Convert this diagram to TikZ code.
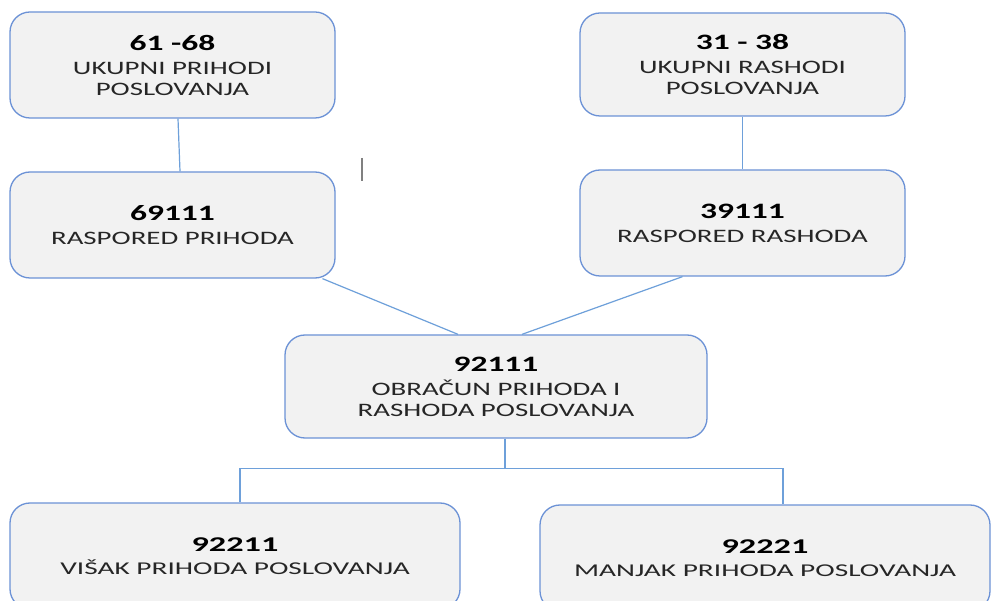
\documentclass[tikz,border=0pt]{standalone}
\usepackage{fontspec}
\setmainfont{Carlito}
\newfontfamily\widefont[FakeStretch=1.52]{Carlito}
\newfontfamily\widerfont[FakeStretch=1.63]{Carlito}
\usetikzlibrary{positioning}
\definecolor{boxline}{RGB}{108,146,214}
\definecolor{boxfill}{RGB}{242,242,242}
\definecolor{linkline}{RGB}{110,160,218}
\definecolor{txt}{RGB}{38,38,38}
\newcommand{\acctno}[1]{{\fontsize{22}{24}\selectfont\bfseries\color{black}#1}}
\newcommand{\acctnosm}[1]{{\fontsize{21}{23}\selectfont\bfseries\color{black}#1}}
\tikzset{
  acct/.style={draw=boxline, fill=boxfill, line width=1.3pt, rounded corners=20pt,
    align=center, text=txt, inner sep=0pt},
  wide/.style={acct, font=\widefont\fontsize{19}{21}\selectfont},
  result/.style={acct, font=\widerfont\fontsize{18}{21}\selectfont,
    minimum width=450pt, minimum height=106pt},
  link/.style={draw=linkline, line width=1.2pt}
}
\begin{document}
\begin{tikzpicture}[x=1pt,y=-1pt]
      \path[use as bounding box, clip] (0,0) rectangle (991,601);
      \fill[white] (0,0) rectangle (991,601);
      \node[wide, minimum width=325pt, minimum height=106pt] (prih) at (172.5,65)
        {\acctno{61 -68}\\[3pt] UKUPNI PRIHODI\\ POSLOVANJA};
      \node[wide, minimum width=325pt, minimum height=103pt] (rash) at (742.5,64.5)
        {\acctno{31 - 38}\\[3pt] UKUPNI RASHODI\\ POSLOVANJA};
      \node[wide, minimum width=325pt, minimum height=106pt] (rprih) at (172.5,225)
        {\acctno{69111}\\[3pt] RASPORED PRIHODA};
      \node[wide, minimum width=325pt, minimum height=106pt] (rrash) at (742.5,223)
        {\acctno{39111}\\[3pt] RASPORED RASHODA};
      \node[wide, minimum width=422pt, minimum height=103pt] (obr) at (496,386.5)
        {\acctno{92111}\\[3pt] OBRAČUN PRIHODA I\\ RASHODA POSLOVANJA};
      \node[result] (visak) at (235,556)
        {\acctnosm{92211}\\[2pt] VIŠAK PRIHODA POSLOVANJA};
      \node[result] (manjak) at (765,558)
        {\acctnosm{92221}\\[2pt] MANJAK PRIHODA POSLOVANJA};
      % veze
      \draw[link] ([xshift=5.5pt]prih.south) -- ([xshift=7.5pt]rprih.north);
      \draw[link] (rash.south) -- (rrash.north);
      \draw[link] ([xshift=150pt]rprih.south) -- ([xshift=-38pt]obr.north);
      \draw[link] ([xshift=-60pt]rrash.south) -- ([xshift=26pt]obr.north);
      \coordinate (fork) at ([xshift=9pt,yshift=-30pt]obr.south);
      \draw[link] ([xshift=9pt]obr.south) -- (fork);
      \draw[link] ([xshift=5pt]visak.north) |- (fork) -| ([xshift=18pt]manjak.north);
      \draw[gray, line width=1.5pt] (362,158) -- (362,181);
    \end{tikzpicture}
\end{document}
